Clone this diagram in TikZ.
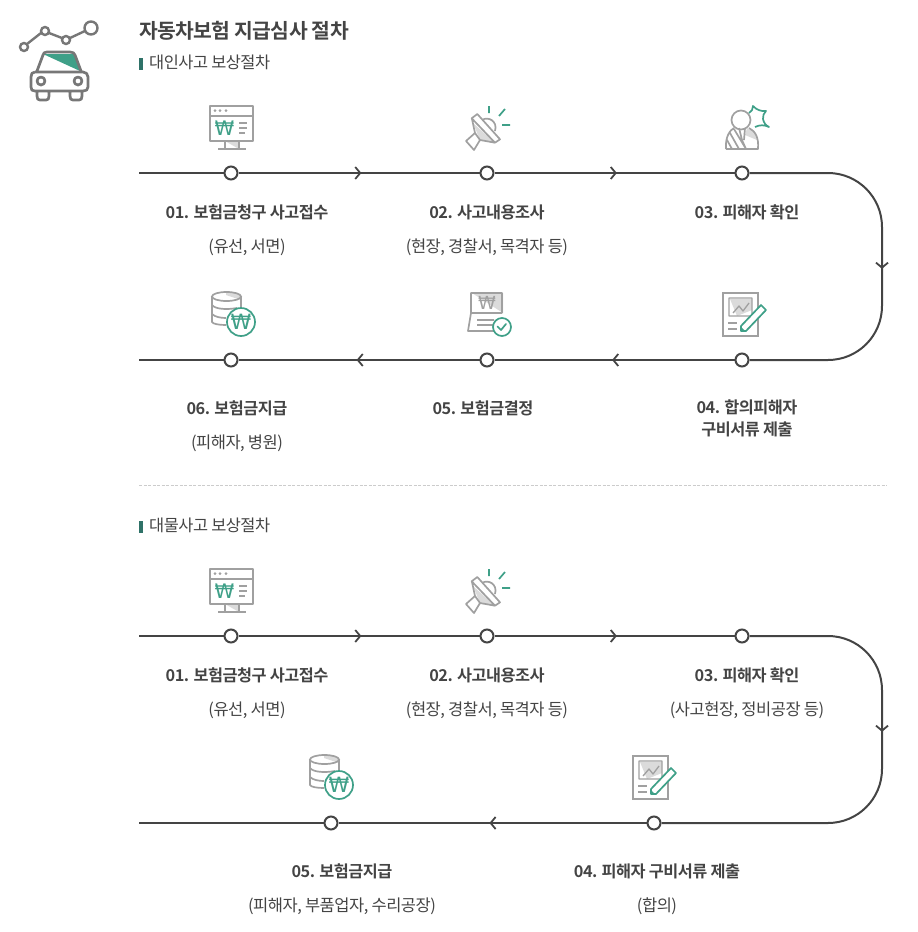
\documentclass[tikz,border=0pt]{standalone}
\usepackage{fontspec}
\setmainfont{Noto Sans CJK KR}[BoldFont={Noto Sans CJK KR Bold},LetterSpace=-3]
\newfontfamily\wonfont{DejaVu Sans}
\usetikzlibrary{arrows.meta,decorations.markings}
\definecolor{textgray}{HTML}{444444}
\definecolor{icongray}{HTML}{A0A0A0}
\definecolor{icongreen}{HTML}{3FA088}
\definecolor{cargray}{HTML}{777777}
\definecolor{tickgreen}{HTML}{2F7268}
\tikzset{
	flow/.style={draw=textgray,line width=2pt},
	flowtip/.style={flow,postaction={decorate},decoration={markings,mark=at position 0.51 with {\arrow{Straight Barb[length=5pt,width=12pt,line width=1.8pt]}}}},
	dot/.style={circle,draw=textgray,line width=2pt,fill=white,minimum size=13pt,inner sep=0pt},
	head/.style={text=textgray,font=\fontsize{16.300}{22}\selectfont\bfseries,align=center},
	sub/.style={text=textgray,font=\fontsize{16.500}{20}\selectfont},
	section/.style={text=textgray,font=\fontsize{16.400}{19}\selectfont,anchor=west},
	gline/.style={draw=icongray,line width=1.7pt},
	gshade/.style={fill=icongray!38},
	greenline/.style={draw=icongreen,line width=1.7pt},
	pics/monitor/.style={code={
		\fill[gshade] (-6,-32) -- (8,-32) -- (8,-24) -- (-6,-32);
		\draw[gline,line join=round] (-21,-67) rectangle (22,-32)
		(-21,-57) -- (22,-57)
		(-6,-32) -- (-6,-24) (8,-32) -- (8,-24)
		(-13,-24) -- (15,-24)
		(8,-50) -- (16,-50) (8,-45) -- (16,-45) (8,-40) -- (14,-40);
		\fill[icongray] (-16,-62.5) circle (1.5) (-11,-62.5) circle (1.5) (-5,-62.5) circle (1.5);
		\node[name=won,text=icongreen,font=\wonfont\fontsize{20}{20}\selectfont,inner sep=0pt] at (-6.5,-45) {₩};
	}},
	pics/speaker/.style={code={
		\fill[gshade] (-14,-50) -- (-7,-33) -- (8,-30) -- cycle;
		\draw[gline,line join=round] (-15.300,-54.700) -- (-9.700,-59) -- (13,-33.700) -- (8,-30.300) -- cycle
		(-15,-54) -- (-12,-40) -- (-7,-33) -- (8,-30.300)
		(-5,-53) .. controls (1,-57) and (11,-52) .. (8,-42)
		(-12,-40) -- (-21,-32) -- (-13,-23) -- (-7,-33);
		\draw[greenline] (2,-67) -- (2,-60) (12,-57) -- (18,-64) (15,-48) -- (23,-48);
	}},
	pics/person/.style={code={
		\fill[gshade] (5,-45) -- (12,-41) -- (15,-33) -- (3,-38) -- cycle;
		\draw[gline] (-1,-53) circle (9.500);
		\draw[gline,line join=round] (-16,-24) .. controls (-17,-36) and (-12,-43) .. (-8,-45)
		(7,-45) .. controls (13,-42) and (17,-36) .. (16,-24) -- (-16,-24)
		(-8,-44) -- (4,-24) (-12,-40) -- (-3,-24) (-15,-33) -- (-10,-24)
		(-3,-45) -- (0,-33) -- (4,-24) (3,-45) -- (2,-33);
		\draw[greenline,line join=round] (7,-60) to[bend right=30] (11,-67) to[bend right=25] (24,-62) to[bend right=25] (21,-54) to[bend right=25] (27,-46) to[bend right=25] (13,-46);
	}},
	pics/coins/.style={code={
		\fill[gshade] (-5,-65) -- (10,-60) -- (10,-63.500) .. controls (10,-67) and (0,-68) .. (-5,-68);
		\draw[gline] (-4.500,-63.500) ellipse (14.500 and 4.500)
		(-19,-63.500) -- (-19,-38) .. controls (-18,-36) and (-12,-35) .. (-5,-35)
		(10,-63.500) -- (10,-52)
		(-19,-55) .. controls (-16,-51) and (-5,-50) .. (6,-52)
		(-19,-46) .. controls (-16,-43) and (-10,-42) .. (-5,-42);
		\draw[greenline,fill=white] (10,-38) circle (14);
		\node[name=won,text=icongreen,font=\wonfont\fontsize{21}{21}\selectfont,inner sep=0pt] at (10,-38) {₩};
	}},
	pics/decision/.style={code={
		\fill[gshade] (-15,-67) -- (16,-67) -- (16,-47) -- cycle;
		\draw[gline,line join=round] (-16,-47) -- (-16,-67) -- (15,-67) -- (15,-47)
		(-16,-47) -- (15,-47)
		(-16,-47) -- (-19,-29) -- (10,-29)
		(-10,-40) -- (7,-40) (-10,-35) -- (7,-35);
		\node[name=won,text=icongray,font=\wonfont\fontsize{18}{18}\selectfont,inner sep=0pt] at (0,-57) {₩};
		\draw[greenline,fill=white] (15,-33) circle (9);
		\draw[greenline,line cap=round,line join=round] (10.500,-33.500) -- (14,-30) -- (19,-36);
	}},
	pics/report/.style={code={
		\draw[gline] (-19,-67) rectangle (16,-24);
		\fill[gshade] (-12,-61) -- (10,-61) -- (10,-50) -- (-5,-44) -- cycle;
		\draw[gline,line width=1.3pt,line join=round] (-13,-62) rectangle (10,-44)
		(-9,-47) -- (-3,-54) -- (1,-49) -- (7,-57);
		\draw[gline] (-14,-37) -- (-5,-37) (-14,-31) -- (-5,-31);
		\draw[greenline,fill=white,line join=round] (-1,-29) -- (-1,-34) -- (19,-55) -- (24,-50) -- (4,-29) -- cycle;
		\fill[icongreen] (-1,-29) -- (-1,-33) -- (3,-29) -- cycle;
	}},
	pics/car/.style={code={
		\fill[icongreen] (43,54) -- (74,54) -- (80,71) -- cycle;
		\draw[cargray,line width=2.400pt,fill=none] (24,47) circle (4) (45,31) circle (4) (66,40) circle (4) (91,28) circle (6.500)
		(27,44) -- (41,33) (49,33) -- (62,38) (70,38) -- (85,31);
		\draw[cargray,line width=2.700pt,line join=round] (37,71) -- (43,55) .. controls (44,53) and (44,52) .. (47,52) -- (70,52) .. controls (73,52) and (74,53) .. (75,55) -- (81,71)
		(35,72) -- (83,72) .. controls (86,72) and (88,74) .. (88,77) -- (88,87) .. controls (88,90) and (86,91) .. (83,91) -- (35,91) .. controls (32,91) and (31,90) .. (31,87) -- (31,77) .. controls (31,74) and (32,72) .. (35,72)
		(37,91) -- (37,96) .. controls (37,99) and (38,100) .. (40,100) -- (46,100) .. controls (48,100) and (49,99) .. (49,96) -- (49,91)
		(70,91) -- (70,96) .. controls (70,99) and (71,100) .. (73,100) -- (79,100) .. controls (81,100) and (82,99) .. (82,96) -- (82,91)
		(41,81) circle (4) (78,81) circle (4);
	}}
}
\begin{document}
\begin{tikzpicture}[x=1pt,y=-1pt]
	\useasboundingbox (0,0) rectangle (918,932);
	\pic at (0,0) {car};
	\node[text=textgray,font=\fontsize{20.400}{24}\selectfont\bfseries,anchor=west,inner sep=0pt] (title) at (139,31) {자동차보험 지급심사 절차};
	\fill[tickgreen] (139,58) rectangle (143,70);
	\node[section,inner sep=0pt] (first) at (149,62) {대인사고 보상절차};
	\draw[dashed,draw=black!20,line width=1pt,dash pattern=on 3pt off 1.500pt] (139,485) -- (887,485);
	\fill[tickgreen] (139,521) rectangle (143,533);
	\node[section,inner sep=0pt] (second) at (149,525) {대물사고 보상절차};

	\coordinate (starta) at (139,173);
	\coordinate (enda) at (139,360);
	\coordinate (turna1) at (882,227);
	\coordinate (turna2) at (882,309);
	\node[dot] (a1) at (231,173) {};
	\node[dot] (a2) at (487,173) {};
	\node[dot] (a3) at (742,173) {};
	\node[dot] (a4) at (742,360) {};
	\node[dot] (a5) at (487,360) {};
	\node[dot] (a6) at (231,360) {};
	\pic (ia1) at (a1) {monitor};
	\pic (ia2) at (a2) {speaker};
	\pic (ia3) at (a3) {person};
	\pic (ia4) at (a4) {report};
	\pic (ia5) at (a5) {decision};
	\pic (ia6) at (a6) {coins};
	\draw[flow] (starta) -- (a1);
	\draw[flowtip] (a1) -- (a2);
	\draw[flowtip] (a2) -- (a3);
	\draw[flow,rounded corners=54pt] (a3) -- (882,173) -- (882,360) -- (a4);
	\draw[flowtip] (turna1) -- (turna2);
	\draw[flowtip] (a4) -- (a5);
	\draw[flowtip] (a5) -- (a6);
	\draw[flow] (a6) -- (enda);
	\node[head] (ha1) at (247,212) {01. 보험금청구 사고접수};
	\node[sub] (sa1) at (247,247) {(유선, 서면)};
	\node[head] (ha2) at (487,212) {02. 사고내용조사};
	\node[sub] (sa2) at (487,247) {(현장, 경찰서, 목격자 등)};
	\node[head] (ha3) at (747,212) {03. 피해자 확인};
	\node[head] (ha4) at (747,418.500) {04. 합의피해자\\구비서류 제출};
	\node[head] (ha5) at (483,408) {05. 보험금결정};
	\node[head] (ha6) at (237,408) {06. 보험금지급};
	\node[sub] (sa6) at (237,443) {(피해자, 병원)};

	\coordinate (startb) at (139,636);
	\coordinate (endb) at (139,823);
	\coordinate (turnb1) at (882,690);
	\coordinate (turnb2) at (882,772);
	\node[dot] (b1) at (231,636) {};
	\node[dot] (b2) at (487,636) {};
	\node[dot] (b3) at (742,636) {};
	\node[dot] (b4) at (654,823) {};
	\node[dot] (b5) at (331,823) {};
	\pic (ib1) at (b1) {monitor};
	\pic (ib2) at (b2) {speaker};
	\pic (ib4) at ([xshift=-2pt]b4) {report};
	\pic (ib5) at ([xshift=-2pt]b5) {coins};
	\draw[flow] (startb) -- (b1);
	\draw[flowtip] (b1) -- (b2);
	\draw[flowtip] (b2) -- (b3);
	\draw[flow,rounded corners=54pt] (b3) -- (882,636) -- (882,823) -- (b4);
	\draw[flowtip] (turnb1) -- (turnb2);
	\draw[flowtip] (b4) -- (b5);
	\draw[flow] (b5) -- (endb);
	\node[head] (hb1) at (247,675) {01. 보험금청구 사고접수};
	\node[sub] (sb1) at (247,710) {(유선, 서면)};
	\node[head] (hb2) at (487,675) {02. 사고내용조사};
	\node[sub] (sb2) at (487,710) {(현장, 경찰서, 목격자 등)};
	\node[head] (hb3) at (747,675) {03. 피해자 확인};
	\node[sub] (sb3) at (747,710) {(사고현장, 정비공장 등)};
	\node[head] (hb4) at (657,871) {04. 피해자 구비서류 제출};
	\node[sub] (sb4) at (657,906) {(합의)};
	\node[head] (hb5) at (342,871) {05. 보험금지급};
	\node[sub] (sb5) at (342,906) {(피해자, 부품업자, 수리공장)};
\end{tikzpicture}
\end{document}
